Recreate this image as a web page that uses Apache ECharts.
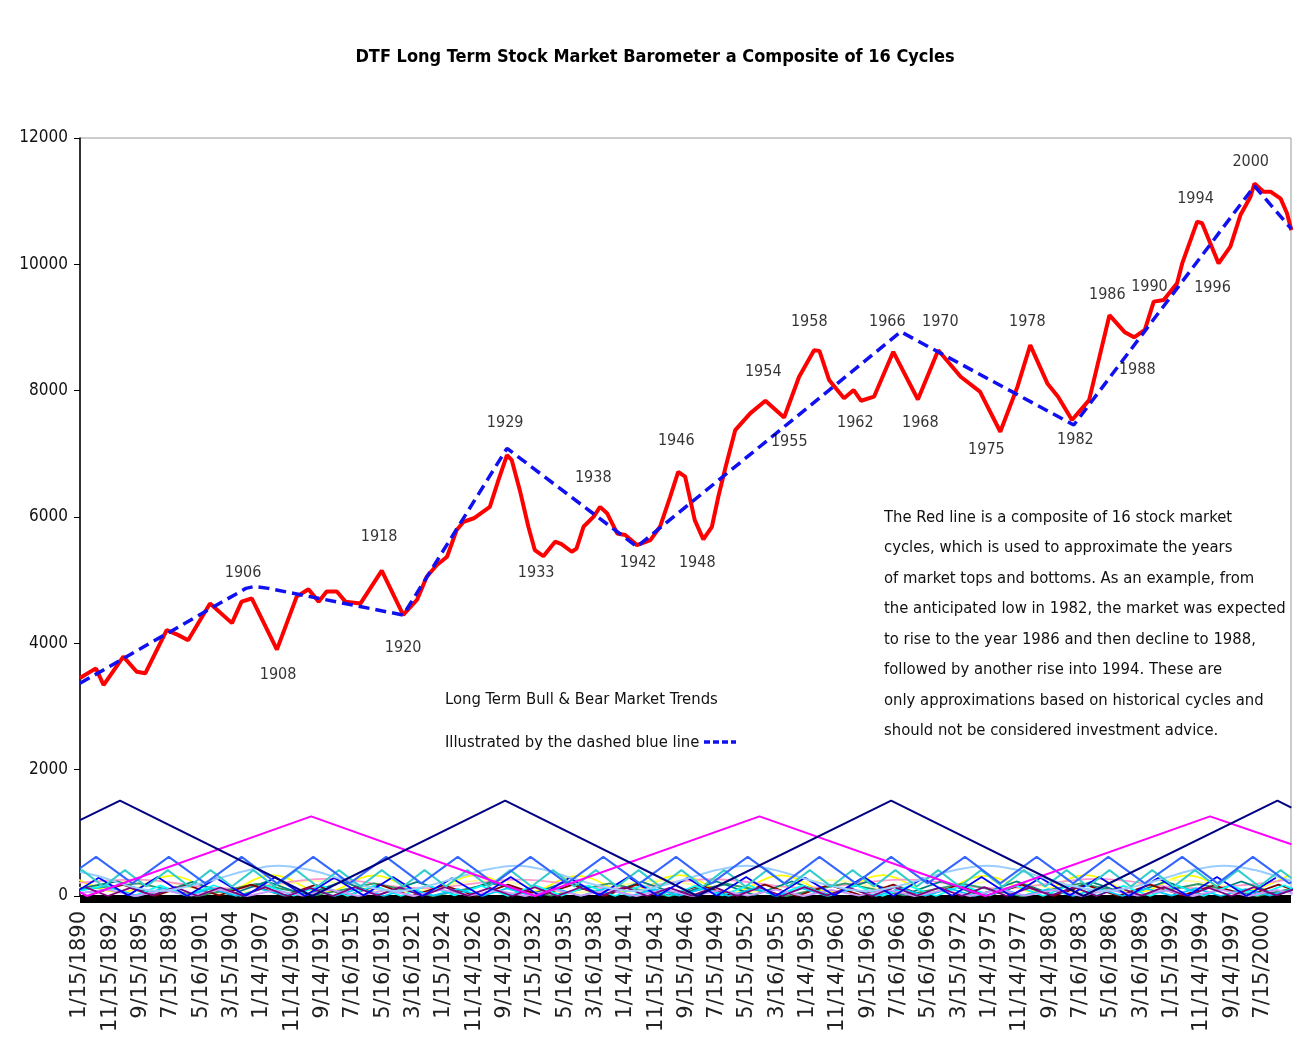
<!DOCTYPE html>
<html><head><meta charset="utf-8">
<script src="https://cdn.jsdelivr.net/npm/echarts@6/dist/echarts.min.js"></script>
<style>html,body{margin:0;padding:0;background:#fff}#c{width:1310px;height:1058px}</style>
</head><body><div id="c"></div>
<script>
const TITLE = 'DTF Long Term Stock Market Barometer a Composite of 16 Cycles';
const tickLabels = ['1/15/1890','11/15/1892','9/15/1895','7/15/1898','5/16/1901','3/15/1904','1/14/1907','11/14/1909','9/14/1912','7/16/1915','5/16/1918','3/16/1921','1/15/1924','11/14/1926','9/14/1929','7/15/1932','5/16/1935','3/16/1938','1/14/1941','11/15/1943','9/15/1946','7/15/1949','5/15/1952','3/16/1955','1/14/1958','11/14/1960','9/15/1963','7/16/1966','5/16/1969','3/15/1972','1/14/1975','11/14/1977','9/14/1980','7/16/1983','5/16/1986','3/16/1989','1/15/1992','11/14/1994','9/14/1997','7/15/2000'];

// composite (red) [year, value]
const composite = [[1890.0,3450],[1891.25,3580],[1891.5,3600],[1892.2,3340],[1894.05,3790],[1895.3,3550],[1896.1,3525],[1898.1,4210],[1899.2,4130],[1900.1,4050],[1902.15,4630],[1904.2,4320],[1905.1,4660],[1906.05,4710],[1908.4,3900],[1910.25,4740],[1911.35,4855],[1912.3,4660],[1913.05,4820],[1914.0,4820],[1914.8,4660],[1916.2,4630],[1918.2,5150],[1920.2,4450],[1921.5,4690],[1922.4,5055],[1923.35,5240],[1924.3,5370],[1925.2,5795],[1925.85,5925],[1926.8,5980],[1928.3,6160],[1929.1,6585],[1929.9,6980],[1930.35,6900],[1931.1,6425],[1931.9,5845],[1932.5,5477],[1933.3,5380],[1934.4,5610],[1935.0,5570],[1935.95,5450],[1936.4,5500],[1937.05,5845],[1938.0,6005],[1938.6,6160],[1939.25,6060],[1940.2,5740],[1940.95,5715],[1942.05,5555],[1943.3,5635],[1944.2,5845],[1945.15,6320],[1945.9,6715],[1946.55,6640],[1947.45,5950],[1948.25,5645],[1949.05,5845],[1949.65,6320],[1950.3,6770],[1951.23,7375],[1952.63,7640],[1954.05,7840],[1955.8,7575],[1957.2,8220],[1958.6,8640],[1959.1,8630],[1960.0,8170],[1961.4,7880],[1962.3,8010],[1963.0,7840],[1964.2,7905],[1966.0,8615],[1968.3,7860],[1970.2,8640],[1972.3,8220],[1974.1,7985],[1976.0,7350],[1977.6,8060],[1978.8,8720],[1980.4,8115],[1981.4,7905],[1982.7,7535],[1984.3,7850],[1986.2,9195],[1987.6,8930],[1988.5,8845],[1989.5,8960],[1990.34,9410],[1991.27,9435],[1992.52,9700],[1993.0,10015],[1994.4,10675],[1994.86,10650],[1996.4,10015],[1997.5,10280],[1998.44,10780],[1999.38,11070],[1999.75,11280],[2000.6,11150],[2001.25,11150],[2002.2,11040],[2002.8,10805],[2003.2,10540]];

// long term trend (blue dashed)
const trend = [[1890.0,3367],[1905.5,4870],[1906.3,4900],[1907.6,4870],[1920.2,4448],[1929.9,7087],[1942.05,5530],[1966.7,8933],[1982.87,7456],[1999.75,11240],[2003.2,10560]];

// year annotations [year, value, text]
const annotations = [[1905.24,5113,'1906'],[1908.51,3498,'1908'],[1917.95,5683,'1918'],[1920.2,3926,'1920'],[1929.73,7488,'1929'],[1932.63,5113,'1933'],[1937.96,6617,'1938'],[1942.16,5271,'1942'],[1945.72,7203,'1946'],[1947.68,5271,'1948'],[1953.85,8295,'1954'],[1956.28,7187,'1955'],[1958.15,9086,'1958'],[1962.45,7488,'1962'],[1965.44,9086,'1966'],[1968.53,7488,'1968'],[1970.4,9086,'1970'],[1974.7,7060,'1975'],[1978.53,9086,'1978'],[1983.02,7218,'1982'],[1986.0,9514,'1986'],[1988.8,8327,'1988'],[1989.94,9640,'1990'],[1994.24,11034,'1994'],[1995.83,9625,'1996'],[1999.4,11620,'2000']];

// the 16 cycles
const cycleNavy = [[1890,1200],[1893.74,1510],[1911.7,0],[1929.73,1510],[1947.68,0],[1965.8,1510],[1983.77,0],[2001.9,1510],[2003.2,1400]];
const cycleMagenta = [[1890,60],[1890.65,0],[1911.6,1260],[1932.5,0],[1953.5,1260],[1974.6,0],[1995.6,1260],[2003.2,820]];
const cycleSlate = [[1890,440],[1891.5,620],[1894.9,200],[1898.3,620],[1901.7,200],[1905.1,620],[1908.4,200],[1911.8,620],[1915.2,200],[1918.6,620],[1921.9,200],[1925.3,620],[1928.7,200],[1932.1,620],[1935.5,200],[1938.9,620],[1942.3,200],[1945.7,620],[1949.0,200],[1952.4,620],[1955.8,200],[1959.1,620],[1962.5,200],[1965.8,620],[1969.2,200],[1972.7,620],[1976.0,200],[1979.4,620],[1982.8,200],[1986.1,620],[1989.5,200],[1993.0,620],[1996.3,200],[1999.6,620],[2003.0,200],[2003.2,220]];
const cycleTurquoise = [[1890,400],[1890.2,410],[1892.2,150],[1894.2,410],[1896.2,150],[1898.2,410],[1900.2,150],[1902.2,410],[1904.2,150],[1906.2,410],[1908.2,150],[1910.2,410],[1912.2,150],[1914.2,410],[1916.2,150],[1918.2,410],[1920.2,150],[1922.2,410],[1924.2,150],[1926.2,410],[1928.2,150],[1930.2,410],[1932.2,150],[1934.2,410],[1936.2,150],[1938.2,410],[1940.2,150],[1942.2,410],[1944.2,150],[1946.2,410],[1948.2,150],[1950.2,410],[1952.2,150],[1954.2,410],[1956.2,150],[1958.2,410],[1960.2,150],[1962.2,410],[1964.2,150],[1966.2,410],[1968.2,150],[1970.2,410],[1972.2,150],[1974.2,410],[1976.2,150],[1978.2,410],[1980.2,150],[1982.2,410],[1984.2,150],[1986.2,410],[1988.2,150],[1990.2,410],[1992.2,150],[1994.2,410],[1996.2,150],[1998.2,410],[2000.2,150],[2002.2,410],[2003.2,280]];
const cyclePaleBlue = [[1890,380],[1892,300],[1894.5,160],[1897.4,80],[1900.5,170],[1903,280],[1905.5,400],[1908.5,480],[1911.5,410],[1914,290],[1916.5,160],[1919.6,80],[1922.5,160],[1925,280],[1927.8,410],[1930.8,480],[1933.5,410],[1936,280],[1938.8,150],[1941.6,80],[1944.5,170],[1947,290],[1949.5,410],[1952.3,480],[1955,410],[1957.6,280],[1960.5,150],[1963.5,80],[1966.5,160],[1969,280],[1971.8,410],[1974.8,480],[1977.6,410],[1980.2,280],[1983,150],[1985.8,80],[1988.8,160],[1991.3,280],[1994,410],[1996.9,480],[1999.8,410],[2002,300],[2003.2,240]];
// smaller cycles: turning-point values at a fixed step of years
const cycleYellow = [330,60,320,70,330,60,325,65,330,60,320,70,330,60,325,65,330,60,320,70,330,60,325,65,330];
const cycleCyan = [80,170,0,165,10,170,0,160,5,170,0,165,0,170,10,160,0,170,5,165,0,170,0,160,10,170,0,165,5,170,0,160,0,170,10,165,0,170,5,160,0,170,0,165,10,170,0];
const cyclePurple = [140,0,130,10,140,0,135,5,140,0,130,0,140,10,135,0,140,5,130,0,140,0,135,10,140,0,130,5,140,0,135,0,140,10,130,0,140,5,135,0,140,0,130,10,140,0,135,5,140,0,130,0,140,10,135];
const cycleDarkRed = [20,180,0,170,10,180,0,175,5,180,0,170,0,180,10,175,0,180,5,170,0,180,0,175,10,180,0,170,5,180,0,175,0,180,10,170,0,180,5];
const cycleTeal = [120,230,20,225,20,230,15,230,20,225,20,230,15,230,20,225,20,230,15,230,20,225,20,230,15,230,20,225,20,230,15,230,20,225];
const cycleBlue = [0,290,10,300,0,280,5,300,0,290,10,300,0,280,5,300,0,290,10,300,0,285,5,300,0,290,10,300,0,280,5,300,0,290,10,300,0,285,5,300,0,290];
const cycleSky = [60,120,0,115,5,120,0,110,5,120,0,115,0,120,5,110,0,120,5,115,0,120,0,110,5,120,0,115,5,120,0,110,0,120,5,115,0,120,5,110,0,120,0,115,5,120,0,110,5,120];
const cycleGreen = [100,200,0,190,10,200,0,195,5,200,0,190,0,200,10,195,0,200,5,190,0,200];
const cycleLightYellow = [60,250,50,240,60,250,50,245,60,250,50,240,60,250,50];
const cyclePink = [130,260,120,270,125,260,120,265,130,260,120,270,125,260];
const cycleLavender = [50,100,0,95,5,100,0,90,5,100,0,95,0,100,5,90,0,100,5,95,0,100,0,90,5,100,0,95,5,100,0,90,0,100,5,95,0,100,5,90,0,100,0,95,5];

// per small cycle: [values, first year, year step, colour, smooth]
const stepCycles = [
  [cycleYellow, 1889, 4.75, '#FFFF00', true],
  [cycleLightYellow, 1888, 8, '#FFFF99', true],
  [cyclePink, 1886, 9, '#FF99CC', true],
  [cycleGreen, 1890, 5.5, '#339966', false],
  [cycleTeal, 1890, 3.5, '#008080', false],
  [cycleDarkRed, 1891, 3, '#800000', false],
  [cycleCyan, 1890, 2.5, '#00FFFF', false],
  [cycleSky, 1890.8, 2.3, '#00CCFF', false],
  [cycleLavender, 1890, 2.6, '#CC99FF', false],
  [cyclePurple, 1890.5, 2.1, '#800080', false],
  [cycleBlue, 1889, 2.75, '#0000FF', false]
];
const pairCycles = [
  [cyclePaleBlue, '#99CCFF', true],
  [cycleTurquoise, '#33CCCC', false],
  [cycleSlate, '#3366FF', false],
  [cycleMagenta, '#FF00FF', false],
  [cycleNavy, '#000080', false]
];

const COND = '"DejaVu Sans Condensed","Liberation Sans",sans-serif';
const WIDE = '"DejaVu Sans",sans-serif';
const toM = y => (y - 1890) * 12;
const pairs = arr => arr.map(p => [toM(p[0]), p[1]]);

const series = [];
stepCycles.forEach(c => {
  series.push({type:'line', data: c[0].map((v,i)=>[toM(c[1] + i*c[2]), v]), smooth: c[4] ? 0.4 : false,
    showSymbol:false, symbol:'none', silent:true, lineStyle:{color:c[3], width:1.8}, z:2});
});
pairCycles.forEach(c => {
  series.push({type:'line', data: pairs(c[0]), smooth: c[2] ? 0.4 : false,
    showSymbol:false, symbol:'none', silent:true, lineStyle:{color:c[1], width:2}, z:3});
});
series.push({name:'Composite', type:'line', data: pairs(composite), showSymbol:false, symbol:'none',
  lineStyle:{color:'#FF0000', width:4}, z:5});
series.push({name:'Trend', type:'line', data: pairs(trend), showSymbol:false, symbol:'none',
  lineStyle:{color:'#1010F0', width:3.5, type:[11,6]}, z:6});
series.push({type:'scatter', data: annotations.map(a => ({value:[toM(a[0]), a[1]], name:a[2]})),
  symbolSize:1, itemStyle:{color:'rgba(0,0,0,0)'}, clip:false, silent:true, z:7,
  label:{show:true, position:'inside', formatter: p => p.name, color:'#000', fontFamily:COND, fontSize:16}});

const chart = echarts.init(document.getElementById('c'));
chart.setOption({
  animation:false,
  backgroundColor:'#fff',
  title:{text:TITLE, left:'center', top:43, textStyle:{fontFamily:COND, fontSize:18, fontWeight:'bold', color:'#000'}},
  grid:{left:80, right:19, top:138, bottom:162, show:true, borderColor:'#999', borderWidth:1, backgroundColor:'#fff'},
  xAxis:{type:'value', min:0, max:1358, interval:34,
    axisLine:{show:true, onZero:false, lineStyle:{color:'#000', width:8, cap:'butt'}}, offset:3,
    axisTick:{show:false}, splitLine:{show:false},
    axisLabel:{rotate:90, margin:12, fontFamily:WIDE, fontSize:21, color:'#222', showMaxLabel:false,
      formatter: v => (v % 34 === 0 && tickLabels[v/34]) ? tickLabels[v/34] : ''}},
  yAxis:{type:'value', min:0, max:12000, interval:2000,
    axisLine:{show:true, lineStyle:{color:'#000', width:1.5}},
    axisTick:{show:true, length:6, lineStyle:{color:'#000'}}, splitLine:{show:false},
    axisLabel:{margin:12, fontFamily:COND, fontSize:17, color:'#111', formatter: v => String(v)}},
  graphic:[
    {type:'text', left:445, top:691, style:{text:'Long Term Bull & Bear Market Trends', font:'16.5px '+COND, fill:'#111'}},
    {type:'text', left:445, top:734, style:{text:'Illustrated by the dashed blue line', font:'16.5px '+COND, fill:'#111'}},
    {type:'line', shape:{x1:704, y1:742, x2:736, y2:742}, style:{stroke:'#1010F0', lineWidth:3.5, lineDash:[6,3]}},
    {type:'text', left:884, top:502, style:{text:['The Red line is a composite of 16 stock market','cycles, which is used to approximate the years','of market tops and bottoms. As an example, from','the anticipated low in 1982, the market was expected','to rise to the year 1986 and then decline to 1988,','followed by another rise into 1994. These are','only approximations based on historical cycles and','should not be considered investment advice.'].join('\n'),
      font:'16.5px '+COND, fill:'#111', lineHeight:30.5}}
  ],
  series: series
});
</script></body></html>
